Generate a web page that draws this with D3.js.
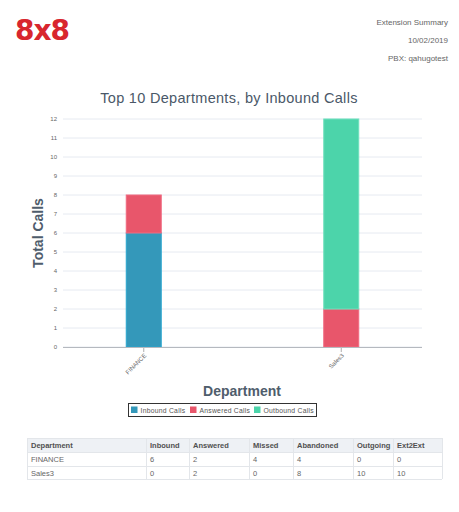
<!DOCTYPE html>
<html>
<head>
<meta charset="utf-8">
<script src="https://cdn.jsdelivr.net/npm/d3@7"></script>
<style>
  body { margin: 0; background: #fff; }
  text { font-family: "Liberation Sans", Arial, sans-serif; }
</style>
</head>
<body>
<div id="canvas"></div>
<script>
"use strict"

/* chart data */
let departments = ["FINANCE", "Sales3"]
let seriesNames = ["Inbound Calls", "Answered Calls", "Outbound Calls"]
let inboundCalls = [6, 0]
let answeredCalls = [2, 2]
let outboundCalls = [0, 10]
let yTicks = [0, 1, 2, 3, 4, 5, 6, 7, 8, 9, 10, 11, 12]

/* table data */
let tableHeaders = ["Department", "Inbound", "Answered", "Missed", "Abandoned", "Outgoing", "Ext2Ext"]
let tableInbound = [6, 0]
let tableAnswered = [2, 2]
let tableMissed = [4, 0]
let tableAbandoned = [4, 8]
let tableOutgoing = [0, 10]
let tableExt2Ext = [0, 10]

let headerLines = ["Extension Summary", "10/02/2019", "PBX: qahugotest"]

let svgWidth = 459
let svgHeight = 512
let colors = ["#3498ba", "#e8566b", "#4cd4aa"]
let strokes = ["#2aa6cf", "#f06a80", "#6fe0bd"]

let svg = d3.select("#canvas")
    .append("svg")
    .attr("width", svgWidth)
    .attr("height", svgHeight)

/* logo */
svg.append("text")
    .attr("x", 15)
    .attr("y", 40)
    .style("font-size", "28px")
    .style("font-weight", "900")
    .style("font-family", "'DejaVu Sans', sans-serif")
    .style("fill", "#d8262e")
    .style("letter-spacing", "-1px")
    .text("8x8")

/* header text right */
svg.selectAll("text.hdr")
    .data(headerLines)
    .join("text")
    .classed("hdr", true)
    .attr("x", 448)
    .attr("y", (d, i) => 25 + i * 18)
    .attr("text-anchor", "end")
    .style("font-size", "8px")
    .style("fill", "#666")
    .text(d => d)

/* title */
svg.append("text")
    .attr("x", 229)
    .attr("y", 103)
    .attr("text-anchor", "middle")
    .style("font-size", "14.5px")
    .style("fill", "#4a5868")
    .style("letter-spacing", "0.3px")
    .text("Top 10 Departments, by Inbound Calls")

/* scales */
let plotLeft = 63
let plotRight = 422
let xScale = d3.scalePoint()
    .domain(departments)
    .range([45, 440])
    .padding(0.5)
let yScale = d3.scaleLinear()
    .domain([0, 12])
    .range([347, 119])
let barWidth = 35

/* gridlines */
svg.selectAll("line.grid")
    .data(yTicks)
    .join("line")
    .classed("grid", true)
    .attr("x1", plotLeft)
    .attr("x2", plotRight)
    .attr("y1", d => yScale(d))
    .attr("y2", d => yScale(d))
    .attr("stroke", "#e6eaf1")
    .attr("stroke-width", 1)

/* y tick labels */
svg.selectAll("text.ytick")
    .data(yTicks)
    .join("text")
    .classed("ytick", true)
    .attr("x", 57)
    .attr("y", d => yScale(d) + 2)
    .attr("text-anchor", "end")
    .style("font-size", "6px")
    .style("fill", "#666")
    .text(d => d)

/* stacked bars */
let rows = departments.map((d, i) => ({
    dept: d,
    "Inbound Calls": inboundCalls[i],
    "Answered Calls": answeredCalls[i],
    "Outbound Calls": outboundCalls[i]
}))
let stacked = d3.stack().keys(seriesNames)(rows)

svg.selectAll("g.series")
    .data(stacked)
    .join("g")
    .classed("series", true)
    .attr("fill", (d, i) => colors[i])
    .attr("stroke", (d, i) => strokes[i])
    .attr("stroke-width", 1)
    .selectAll("rect")
    .data(d => d.filter(p => p[1] - p[0] > 0))
    .join("rect")
    .attr("x", d => xScale(d.data.dept) - barWidth / 2)
    .attr("width", barWidth)
    .attr("y", d => yScale(d[1]))
    .attr("height", d => yScale(d[0]) - yScale(d[1]))

/* x axis line */
svg.append("line")
    .attr("x1", plotLeft)
    .attr("x2", plotRight)
    .attr("y1", yScale(0) + 0.5)
    .attr("y2", yScale(0) + 0.5)
    .attr("stroke", "#b5b9bf")
    .attr("stroke-width", 1)

/* x ticks and labels */
svg.selectAll("line.xtick")
    .data(departments)
    .join("line")
    .classed("xtick", true)
    .attr("x1", d => xScale(d))
    .attr("x2", d => xScale(d))
    .attr("y1", yScale(0) + 1)
    .attr("y2", yScale(0) + 5)
    .attr("stroke", "#999")
    .attr("stroke-width", 0.8)

svg.selectAll("text.xlabel")
    .data(departments)
    .join("text")
    .classed("xlabel", true)
    .attr("text-anchor", "end")
    .attr("transform", d => `translate(${xScale(d) + 3},${yScale(0) + 9}) rotate(-45)`)
    .style("font-size", "6px")
    .style("fill", "#666")
    .text(d => d)

/* axis titles */
svg.append("text")
    .attr("transform", `translate(43,${yScale(6)}) rotate(-90)`)
    .attr("text-anchor", "middle")
    .style("font-size", "14px")
    .style("font-weight", "bold")
    .style("fill", "#4f5d6c")
    .text("Total Calls")

svg.append("text")
    .attr("x", 242)
    .attr("y", 396)
    .attr("text-anchor", "middle")
    .style("font-size", "14px")
    .style("font-weight", "bold")
    .style("fill", "#4f5d6c")
    .text("Department")

/* legend */
svg.append("rect")
    .attr("x", 128.5)
    .attr("y", 403.5)
    .attr("width", 188)
    .attr("height", 13)
    .attr("fill", "#fff")
    .attr("stroke", "#333")
    .attr("stroke-width", 1)

let legendX = [131, 190, 254]
seriesNames.forEach((name, i) => {
    svg.append("rect")
        .attr("x", legendX[i])
        .attr("y", 406.5)
        .attr("width", 6.5)
        .attr("height", 6.5)
        .attr("fill", colors[i])
    svg.append("text")
        .attr("x", legendX[i] + 9.5)
        .attr("y", 412.5)
        .style("font-size", "6.8px")
        .style("fill", "#555")
        .style("letter-spacing", "0.25px")
        .text(name)
})

/* table */
let tableRows = departments.map((d, i) => [d, tableInbound[i], tableAnswered[i], tableMissed[i],
    tableAbandoned[i], tableOutgoing[i], tableExt2Ext[i]])
let colX = [27, 146, 189, 249, 293, 353, 393, 442]
let rowY = [438, 452, 466, 479]

svg.append("rect")
    .attr("x", colX[0])
    .attr("y", rowY[0])
    .attr("width", colX[7] - colX[0])
    .attr("height", rowY[1] - rowY[0])
    .attr("fill", "#eef1f5")

/* horizontal lines */
svg.selectAll("line.trow")
    .data(rowY)
    .join("line")
    .classed("trow", true)
    .attr("x1", colX[0])
    .attr("x2", colX[7])
    .attr("y1", d => d + 0.5)
    .attr("y2", d => d + 0.5)
    .attr("stroke", "#e3e6ea")

/* vertical lines */
svg.selectAll("line.tcol")
    .data(colX)
    .join("line")
    .classed("tcol", true)
    .attr("x1", d => d + 0.5)
    .attr("x2", d => d + 0.5)
    .attr("y1", rowY[0])
    .attr("y2", rowY[3])
    .attr("stroke", "#e3e6ea")

tableHeaders.forEach((h, c) => {
    svg.append("text")
        .attr("x", colX[c] + 4)
        .attr("y", rowY[0] + 10)
        .style("font-size", "7.5px")
        .style("font-weight", "bold")
        .style("fill", "#505050")
        .text(h)
})

tableRows.forEach((row, r) => {
    row.forEach((v, c) => {
        svg.append("text")
            .attr("x", colX[c] + 4)
            .attr("y", rowY[r + 1] + 10)
            .style("font-size", "7.5px")
            .style("fill", "#666")
            .text(v)
    })
})
</script>
</body>
</html>
